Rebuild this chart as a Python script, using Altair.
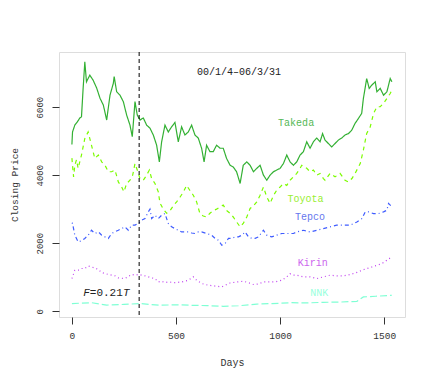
import altair as alt
import pandas as pd

# ---- data ----
takeda_days = [0, 3, 14, 30, 38, 46, 54, 62, 70, 86, 102, 119, 135, 151, 167, 183, 199, 203, 215, 231,
               247, 263, 279, 290, 303, 314, 327, 343, 359, 375, 391, 407, 420, 431, 447, 463, 479, 495,
               511, 527, 543, 559, 575, 591, 607, 623, 635, 647, 663, 679, 695, 712, 727, 743, 760, 775,
               791, 808, 823, 840, 856, 872, 888, 904, 920, 936, 952, 968, 984, 1000, 1016, 1032, 1048,
               1064, 1080, 1096, 1112, 1128, 1144, 1160, 1176, 1192, 1204, 1216, 1232, 1248, 1264, 1280,
               1296, 1312, 1328, 1344, 1360, 1376, 1392, 1400, 1416, 1428, 1441, 1457, 1465, 1481, 1497,
               1513, 1529, 1537]
takeda_vals = [4900, 5270, 5470, 5600, 5680, 5715, 6560, 7330, 6745, 6940, 6790, 6560, 6260, 6060, 5620,
               6350, 6700, 6900, 6450, 6350, 6160, 5765, 5470, 5130, 6160, 5765, 5620, 5680, 5470, 5380,
               5180, 4880, 4390, 4980, 5470, 5270, 5420, 5550, 4980, 5420, 5180, 5270, 5470, 5180, 5090,
               4790, 4390, 4880, 4690, 4690, 4880, 4790, 4790, 4490, 4290, 4240, 4100, 3755, 4290, 4390,
               4290, 4100, 4200, 4290, 4000, 3850, 4000, 4100, 4150, 4200, 4340, 4590, 4390, 4290, 4390,
               4590, 4690, 4980, 4790, 4980, 5090, 4980, 5220, 5030, 4930, 4830, 4930, 5030, 5090, 5180,
               5220, 5320, 5520, 5665, 5815, 6250, 6840, 6550, 6650, 6745, 6450, 6550, 6350, 6450, 6840,
               6745]

toyota_days = [0, 8, 14, 22, 30, 46, 62, 78, 94, 110, 127, 143, 159, 175, 191, 207, 223, 239, 250, 263,
               279, 292, 303, 314, 327, 343, 359, 372, 383, 399, 415, 423, 439, 455, 471, 487, 503, 519,
               535, 551, 567, 583, 599, 615, 631, 647, 663, 679, 695, 712, 727, 743, 759, 775, 791, 808,
               823, 840, 856, 872, 888, 904, 920, 936, 952, 968, 984, 1000, 1016, 1032, 1048, 1064, 1080,
               1096, 1104, 1128, 1144, 1160, 1176, 1192, 1208, 1216, 1240, 1264, 1288, 1312, 1328, 1345,
               1360, 1385, 1400, 1416, 1433, 1449, 1465, 1481, 1497, 1513, 1529, 1537]
toyota_vals = [4500, 3950, 4290, 4450, 4200, 4590, 5080, 5270, 4880, 4490, 4590, 4390, 4290, 4100, 4100,
               4150, 3800, 3655, 3510, 3755, 3850, 4000, 4340, 4150, 3900, 3850, 4000, 4150, 3900, 3755,
               3510, 3180, 3000, 2880, 2950, 3100, 3215, 3350, 3500, 3700, 3550, 3410, 3215, 2870, 2800,
               2770, 2880, 2960, 3000, 3070, 3120, 2960, 2880, 2770, 2625, 2480, 2580, 2770, 3020, 3100,
               3215, 3410, 3650, 3360, 3170, 3400, 3560, 3650, 3755, 3700, 3850, 3950, 4050, 4200, 4290,
               4200, 4100, 4150, 4000, 4050, 3900, 3850, 4050, 3950, 4050, 3850, 3800, 3900, 4050, 4340,
               4735, 5225, 5420, 5815, 6010, 6010, 6110, 6255, 6400, 6500]

tepco_days = [0, 3, 14, 30, 46, 62, 78, 94, 111, 127, 143, 159, 175, 191, 207, 223, 239, 255, 271, 287,
              303, 319, 335, 351, 367, 375, 383, 399, 415, 431, 447, 463, 479, 495, 511, 527, 543, 559,
              575, 591, 607, 623, 647, 671, 688, 703, 720, 736, 752, 768, 784, 800, 816, 832, 848, 864,
              880, 896, 920, 936, 960, 984, 1008, 1040, 1064, 1080, 1112, 1144, 1176, 1208, 1240, 1272,
              1304, 1337, 1369, 1393, 1409, 1425, 1449, 1473, 1497, 1513, 1521, 1537]
tepco_vals = [2600, 2580, 2235, 2040, 2070, 2140, 2235, 2380, 2285, 2335, 2235, 2185, 2140, 2285, 2335,
              2380, 2430, 2480, 2380, 2530, 2530, 2580, 2675, 2725, 2920, 3000, 2725, 2820, 2725, 2820,
              2870, 2580, 2480, 2430, 2380, 2330, 2330, 2330, 2300, 2285, 2330, 2330, 2285, 2235, 2140,
              2090, 1940, 1990, 2140, 2140, 2185, 2185, 2235, 2330, 2185, 2140, 2140, 2185, 2380, 2235,
              2185, 2235, 2285, 2285, 2285, 2330, 2380, 2330, 2380, 2430, 2480, 2530, 2530, 2530, 2625,
              2725, 2920, 2920, 2870, 2870, 2920, 2970, 3170, 3070]

kirin_days = [0, 14, 30, 46, 62, 78, 94, 111, 127, 143, 159, 175, 191, 207, 223, 239, 255, 271, 287, 303,
              319, 335, 351, 367, 383, 399, 415, 431, 447, 463, 495, 527, 559, 583, 599, 623, 655, 688,
              720, 744, 760, 792, 824, 848, 872, 896, 920, 952, 976, 1008, 1032, 1048, 1064, 1080, 1112,
              1144, 1176, 1208, 1240, 1272, 1304, 1337, 1369, 1393, 1417, 1441, 1465, 1489, 1513, 1537]
kirin_vals = [960, 1205, 1205, 1255, 1255, 1330, 1300, 1270, 1225, 1135, 1110, 1080, 1060, 1040, 980, 970,
              960, 1020, 1080, 1060, 1080, 1060, 1040, 1010, 980, 960, 860, 880, 840, 860, 840, 860, 910,
              1010, 910, 815, 765, 740, 715, 785, 830, 860, 880, 840, 785, 800, 860, 860, 860, 910, 1010,
              1100, 1060, 1060, 1010, 1010, 960, 1010, 1060, 1040, 1040, 1080, 1140, 1205, 1255, 1300,
              1350, 1400, 1500, 1600]

nnk_days = [0, 94, 167, 250, 327, 423, 503, 567, 650, 726, 800, 888, 960, 1056, 1128, 1208, 1290, 1369,
            1400, 1460, 1537]
nnk_vals = [225, 250, 180, 200, 225, 175, 190, 175, 165, 145, 160, 210, 225, 250, 245, 260, 270, 290, 420,
            440, 470]

series_names = ["Takeda", "Toyota", "Tepco", "Kirin", "NNK"]
line_colors = ["#33b033", "#7cfc00", "#3f5cff", "#c040f0", "#7fffd4"]
label_colors = ["#55b855", "#99ee33", "#6677ee", "#cc66ee", "#99ffdd"]
dashes = [[1, 0], [4, 4], [1, 3, 4, 3], [1, 3], [7, 3]]

x_ticks = [0, 500, 1000, 1500]
y_ticks = [0, 2000, 4000, 6000]
x_domain = [-62, 1600]
y_domain = [-170, 7620]
F_day = 323

# label positions (day, price)
label_x = [1077, 1122, 1144, 1157, 1188]
label_y = [5538, 3285, 2774, 1403, 550]

rows = []
for name, d, v in [("Takeda", takeda_days, takeda_vals), ("Toyota", toyota_days, toyota_vals),
                   ("Tepco", tepco_days, tepco_vals), ("Kirin", kirin_days, kirin_vals),
                   ("NNK", nnk_days, nnk_vals)]:
    for a, b in zip(d, v):
        rows.append({"series": name, "day": a, "price": b})
df = pd.DataFrame(rows)

FONT = "Liberation Mono"

xs = alt.Scale(domain=x_domain, nice=False, zero=False)
ys = alt.Scale(domain=y_domain, nice=False, zero=False)

base = alt.Chart(df)

lines = base.mark_line(strokeWidth=1.2, clip=True).encode(
    x=alt.X("day:Q", scale=xs,
            axis=alt.Axis(values=x_ticks, format="d", title="Days", grid=False, domain=False,
                          tickSize=7, tickColor="#333", labelPadding=6, labelFont=FONT,
                          labelFontSize=9.5, labelColor="#333", titleFont=FONT, titleFontSize=10,
                          titleFontWeight="normal", titleColor="#333", titlePadding=18)),
    y=alt.Y("price:Q", scale=ys,
            axis=alt.Axis(values=y_ticks, format="d", title="Closing Price", grid=False, domain=False,
                          tickSize=7, tickColor="#333", labelAngle=270, labelAlign="center",
                          labelBaseline="bottom", labelPadding=8, labelFont=FONT, labelFontSize=9,
                          labelColor="#333", titleFont=FONT, titleFontSize=9.5,
                          titleFontWeight="normal", titleColor="#333", titlePadding=16)),
    color=alt.Color("series:N", scale=alt.Scale(domain=series_names, range=line_colors), legend=None),
    strokeDash=alt.StrokeDash("series:N", scale=alt.Scale(domain=series_names, range=dashes), legend=None),
    detail="series:N",
)

rule = alt.Chart(pd.DataFrame({"day": [F_day]})).mark_rule(
    color="black", strokeDash=[4, 3], strokeWidth=1).encode(x=alt.X("day:Q", scale=xs))

lab_df = pd.DataFrame({"series": series_names, "day": label_x, "price": label_y})
labels = alt.Chart(lab_df).mark_text(font=FONT, fontSize=10, align="center", baseline="middle").encode(
    x=alt.X("day:Q", scale=xs), y=alt.Y("price:Q", scale=ys),
    text="series:N",
    color=alt.Color("series:N", scale=alt.Scale(domain=series_names, range=label_colors), legend=None),
)

title_df = pd.DataFrame({"day": [803], "price": [7038], "t": ["00/1/4\u201306/3/31"]})
title_txt = alt.Chart(title_df).mark_text(font=FONT, fontSize=10, color="#222", align="center",
                                          baseline="middle").encode(
    x=alt.X("day:Q", scale=xs), y=alt.Y("price:Q", scale=ys), text="t:N")

f_df = pd.DataFrame({"day": [54, 86, 245], "price": [550, 550, 550],
                     "t": ["F", "=0.21", "T"], "sty": ["italic", "normal", "italic"]})
f_it = alt.Chart(f_df[f_df.sty == "italic"]).mark_text(
    font=FONT, fontSize=11, fontStyle="italic", color="#222", align="left", baseline="middle").encode(
    x=alt.X("day:Q", scale=xs), y=alt.Y("price:Q", scale=ys), text="t:N")
f_no = alt.Chart(f_df[f_df.sty == "normal"]).mark_text(
    font=FONT, fontSize=11, color="#222", align="left", baseline="middle").encode(
    x=alt.X("day:Q", scale=xs), y=alt.Y("price:Q", scale=ys), text="t:N")

chart = alt.layer(lines, rule, labels, title_txt, f_it, f_no).resolve_scale(color="independent").properties(
    width=346, height=265,
    padding={"left": 51, "top": 44, "right": 20, "bottom": 60},
    autosize="none",
).configure_view(stroke="#333", strokeWidth=1).configure(background="white")

chart.save("out.html", embed_options={"renderer": "svg", "actions": False})
